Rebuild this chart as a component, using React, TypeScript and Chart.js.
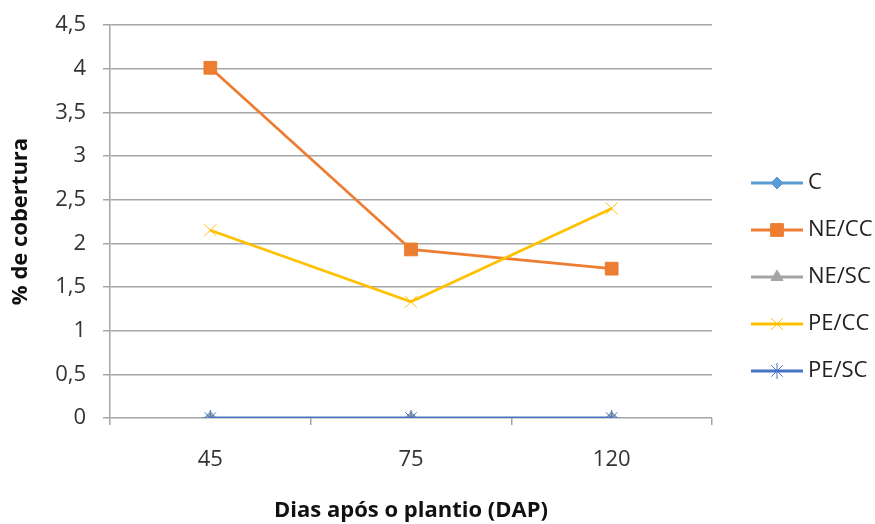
import React, { useEffect, useRef } from "react";
import { Chart, registerables } from "chart.js";
import { drawPoint } from "chart.js/helpers";

Chart.register(...registerables);

const categories = ["45", "75", "120"];
const seriesNames = ["C", "NE/CC", "NE/SC", "PE/CC", "PE/SC"];
const valuesC = [0, 0, 0];
const valuesNECC = [4.01, 1.93, 1.71];
const valuesNESC = [0, 0, 0];
const valuesPECC = [2.15, 1.33, 2.4];
const valuesPESC = [0, 0, 0];
const seriesColors = ["#5B9BD5", "#ED7D31", "#A5A5A5", "#FFC000", "#4472C4"];
const seriesMarkers = ["rectRot", "rect", "triangle", "crossRot", "star"];
const markerSizes = [6, 9, 7, 8.5, 8];
const yTicks = [0, 0.5, 1, 1.5, 2, 2.5, 3, 3.5, 4, 4.5];

const FONT = "'Open Sans', 'Liberation Sans', sans-serif";

const legendPlugin = {
  id: "customLegend",
  afterDraw(chart: any) {
    const ctx = chart.ctx;
    ctx.save();
    chart.data.datasets.forEach((ds: any, i: number) => {
      const y = 183 + i * 47;
      ctx.strokeStyle = ds.borderColor;
      ctx.lineWidth = 3;
      ctx.beginPath();
      ctx.moveTo(751, y);
      ctx.lineTo(803, y);
      ctx.stroke();
      ctx.fillStyle = ds.borderColor;
      ctx.lineWidth = 1;
      drawPoint(ctx, { pointStyle: ds.pointStyle, radius: ds.pointRadius, rotation: 0, borderWidth: 1 } as any, 777, y);
      ctx.fillStyle = "#222";
      ctx.font = `22px ${FONT}`;
      ctx.textAlign = "left";
      ctx.textBaseline = "middle";
      ctx.fillText(ds.label, 808, y);
    });
    ctx.restore();
  },
};

export default function App() {
  const ref = useRef<HTMLCanvasElement>(null);
  useEffect(() => {
    const all = [valuesC, valuesNECC, valuesNESC, valuesPECC, valuesPESC];
    const chart = new Chart(ref.current!, {
      type: "line",
      data: {
        labels: categories,
        datasets: seriesNames.map((name, i) => ({
          label: name,
          data: all[i],
          borderColor: seriesColors[i],
          backgroundColor: seriesColors[i],
          pointBackgroundColor: seriesColors[i],
          pointBorderColor: seriesColors[i],
          pointStyle: seriesMarkers[i] as any,
          pointRadius: markerSizes[i],
          pointBorderWidth: 1,
          borderWidth: 2.75,
          tension: 0,
          order: seriesNames.length - 1 - i,
        })),
      },
      options: {
        animation: false,
        responsive: false,
        maintainAspectRatio: false,
        layout: { padding: { top: 25, right: 163, left: 0, bottom: 0 } },
        plugins: { legend: { display: false }, tooltip: { enabled: false } },
        scales: {
          x: {
            type: "category",
            offset: true,
            grid: {
              offset: true,
              drawOnChartArea: false,
              drawTicks: true,
              tickLength: 7,
              color: "#A6A6A6",
              lineWidth: 1.5,
            },
            border: { display: false },
            ticks: { color: "#333", font: { family: FONT, size: 22 }, padding: 22 },
            title: {
              display: true,
              text: "Dias após o plantio (DAP)",
              color: "#111",
              font: { family: FONT, size: 22, weight: "bold" },
              padding: { top: 0, bottom: 0 },
            },
            afterFit(s: any) {
              s.height = 106;
              s.paddingLeft = 0;
              s.paddingRight = 0;
            },
          },
          y: {
            min: 0,
            max: 4.5,
            afterBuildTicks(s: any) {
              s.ticks = yTicks.map((v) => ({ value: v }));
            },
            grid: {
              color: "#A6A6A6",
              lineWidth: 1.5,
              tickLength: 7,
              drawTicks: true,
            },
            border: { display: true, color: "#A6A6A6", width: 1.5 },
            ticks: {
              color: "#333",
              font: { family: FONT, size: 22 },
              padding: 17,
              callback: (v: any) => String(v).replace(".", ","),
            },
            title: {
              display: true,
              text: "% de cobertura",
              color: "#111",
              font: { family: FONT, size: 22, weight: "bold" },
              padding: { top: 8, bottom: 0 },
            },
            afterFit(s: any) {
              s.width = 110;
              s.paddingTop = 0;
              s.paddingBottom = 0;
            },
          },
        },
      },
      plugins: [legendPlugin],
    });
    return () => chart.destroy();
  }, []);
  return (
    <div style={{ position: "absolute", left: 0, top: 0, width: 875, height: 524, background: "#fff" }}>
      <canvas ref={ref} width={875} height={524} style={{ width: 875, height: 524 }} />
    </div>
  );
}
